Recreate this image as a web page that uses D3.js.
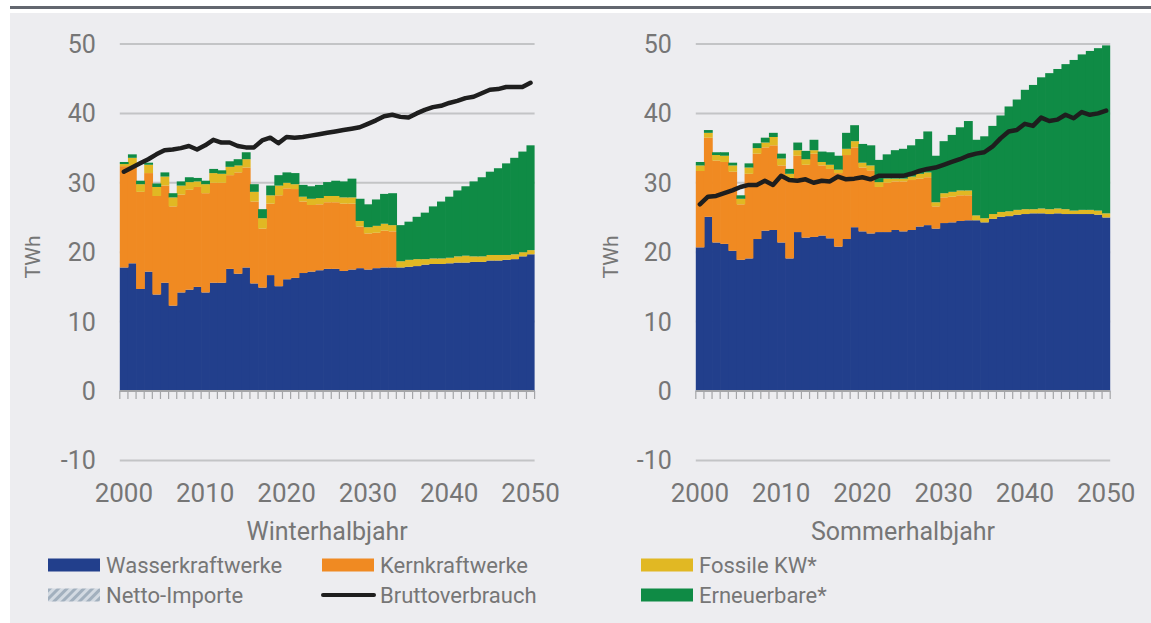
<!DOCTYPE html>
<html>
<head>
<meta charset="utf-8">
<script src="https://cdn.jsdelivr.net/npm/d3@7"></script>
<style>
    body { margin: 0; background: #ffffff; }
    svg text { font-family: Roboto, "Liberation Sans", sans-serif; fill: #767676; }
</style>
</head>
<body>
<div id="chart"></div>
<script>
// years 2000 - 2050
const years = d3.range(2000, 2051);
const yearLabels = [2000, 2010, 2020, 2030, 2040, 2050];
const yTicks = [-10, 0, 10, 20, 30, 40, 50];

// Winterhalbjahr (TWh)
const winterWasser = [17.8,18.4,14.7,17.2,13.9,15.6,12.3,14.2,14.6,15.0,14.2,15.6,15.6,17.6,16.9,17.8,15.5,14.9,16.7,15.1,16.1,16.3,17.0,17.2,17.4,17.6,17.6,17.3,17.5,17.7,17.5,17.7,17.8,17.8,17.8,17.9,18.0,18.2,18.3,18.3,18.4,18.5,18.5,18.6,18.6,18.8,18.8,18.9,19.0,19.4,19.7];
const winterKern = [14.6,14.0,14.0,14.2,14.2,14.0,14.3,14.1,14.4,14.4,14.3,14.4,14.4,13.5,14.6,14.4,11.8,8.5,10.3,13.1,13.1,12.8,10.3,9.6,9.5,9.6,9.6,9.7,9.5,6.0,5.2,5.1,5.3,5.2,0,0,0,0,0,0,0,0,0,0,0,0,0,0,0,0,0];
const winterFossil = [0.3,1.2,1.1,1.2,1.3,1.3,1.3,1.3,1.1,0.8,1.3,1.4,1.3,1.2,1.0,1.2,1.4,1.5,1.2,1.4,0.8,0.7,0.7,0.9,0.9,0.9,0.9,0.9,0.9,0.8,0.9,1.0,1.0,0.9,0.9,1.0,1.0,0.8,0.8,0.8,0.8,0.9,1.0,0.8,0.8,0.8,0.8,0.7,0.7,0.6,0.6];
const winterErneuerbar = [0.3,0.5,0.5,0.3,0.5,0.6,0.6,0.6,0.7,0.5,0.5,0.6,0.5,0.8,0.9,1.0,1.1,1.3,1.4,1.5,1.5,1.6,1.7,1.8,1.9,2.0,2.2,2.3,2.7,3.2,3.3,3.8,4.3,4.6,5.2,5.5,6.1,6.7,7.5,8.2,8.8,9.5,10.0,10.8,11.4,12.0,12.5,13.2,13.9,14.5,15.1];
const winterImport = years.map(() => 0);
const winterBrutto = [31.6,32.2,32.8,33.4,34.1,34.7,34.8,35.0,35.3,34.8,35.4,36.2,35.8,35.8,35.3,35.1,35.1,36.1,36.5,35.7,36.6,36.5,36.6,36.8,37.0,37.2,37.4,37.6,37.8,38.0,38.5,39.0,39.6,39.8,39.5,39.4,40.0,40.5,40.9,41.1,41.5,41.8,42.2,42.4,42.9,43.4,43.5,43.8,43.8,43.8,44.4];

// Sommerhalbjahr (TWh)
const summerWasser = [20.7,25.1,21.4,21.2,20.2,18.9,19.1,21.9,23.1,23.2,21.4,19.1,22.9,22.1,22.2,22.4,22.0,20.8,21.9,23.6,23.0,22.7,22.9,22.9,23.2,23.0,23.2,23.7,23.9,23.4,24.2,24.3,24.5,24.6,24.6,24.3,24.8,25.1,25.2,25.4,25.5,25.6,25.6,25.5,25.6,25.5,25.5,25.5,25.5,25.4,25.0];
const summerKern = [11.0,11.4,11.8,11.8,11.4,8.0,12.2,12.3,12.0,12.2,11.1,11.5,11.0,10.5,12.0,10.1,10.0,10.6,12.1,11.5,9.2,9.1,6.5,7.1,7.0,7.2,7.2,6.9,6.9,3.2,3.7,3.7,3.7,3.6,0,0,0,0,0,0,0,0,0,0,0,0,0,0,0,0,0];
const summerFossil = [0.8,0.7,0.8,0.9,0.9,0.8,0.9,0.8,0.7,1.2,1.0,0.7,0.8,0.8,0.5,0.5,0.6,0.5,0.9,0.9,0.7,0.7,0.7,0.6,0.4,0.4,0.5,0.7,0.7,0.6,0.6,0.7,0.7,0.7,0.7,0.6,0.7,0.7,0.7,0.7,0.7,0.6,0.7,0.7,0.7,0.7,0.5,0.6,0.6,0.6,0.6];
const summerErneuerbar = [0.5,0.4,0.4,0.5,0.4,0.5,0.6,0.7,0.7,0.6,0.7,0.7,1.1,1.2,1.5,1.5,1.8,2.0,2.3,2.3,2.7,2.9,3.2,3.5,4.1,4.3,4.5,5.0,5.9,6.7,7.5,8.2,9.1,10.0,10.9,11.8,12.7,13.9,15.1,15.9,17.2,17.9,18.9,19.6,20.1,20.9,21.7,22.4,22.9,23.4,24.2];
const summerImport = years.map(() => 0);
const summerBrutto = [26.9,28.0,28.1,28.5,28.9,29.4,29.7,29.7,30.3,29.7,31.0,30.4,30.3,30.5,30.0,30.3,30.2,30.9,30.5,30.6,30.8,30.5,31.0,31.0,31.0,31.0,31.3,31.7,32.0,32.2,32.6,33.0,33.4,33.9,34.2,34.4,35.2,36.4,37.4,37.6,38.5,38.2,39.4,38.9,39.1,39.8,39.3,40.2,39.8,40.0,40.4];

const keys = ["wasser", "kern", "fossil", "erneuerbar"];
const colors = {
    wasser: "#223f8c",
    kern: "#f08a22",
    fossil: "#e1b823",
    erneuerbar: "#0f8b45"
};

const width = 1151, height = 623;

let svg = d3.select("#chart")
    .append("svg")
    .attr("width", width)
    .attr("height", height);

// hatch for Netto-Importe
let pattern = svg.append("defs").append("pattern")
    .attr("id", "hatch")
    .attr("patternUnits", "userSpaceOnUse")
    .attr("width", 6)
    .attr("height", 6)
    .attr("patternTransform", "rotate(45)");
pattern.append("rect").attr("width", 6).attr("height", 6).attr("fill", "#d3dae2");
pattern.append("rect").attr("width", 3).attr("height", 6).attr("fill", "#a2b0be");

// background + top rule
svg.append("rect")
    .attr("x", 10).attr("y", 13)
    .attr("width", width - 10).attr("height", height - 13)
    .attr("fill", "#ededf0");
svg.append("rect")
    .attr("x", 10).attr("y", 6)
    .attr("width", width - 10).attr("height", 3)
    .attr("fill", "#63676f");

const y = d3.scaleLinear()
    .domain([-10, 50])
    .range([460.4, 44]);

function drawPanel(opts) {
    let data = years.map((yr, i) => ({
        year: yr,
        wasser: opts.wasser[i],
        kern: opts.kern[i],
        fossil: opts.fossil[i],
        erneuerbar: opts.erneuerbar[i],
        imp: opts.imp[i],
        brutto: opts.brutto[i]
    }));

    let x = d3.scaleBand()
        .domain(years)
        .range([opts.left, opts.right])
        .padding(0);

    // bars overlap a little so no seams show between neighbours
    let barW = d => Math.min(x.bandwidth() + 0.7, opts.right - x(d));

    let g = svg.append("g");

    // gridlines
    g.selectAll(".grid")
        .data(yTicks.filter(t => t !== 0))
        .enter()
        .append("line")
        .attr("x1", opts.left)
        .attr("x2", opts.right)
        .attr("y1", d => y(d))
        .attr("y2", d => y(d))
        .attr("stroke", "#c3c4c6")
        .attr("stroke-width", 2);

    // y labels
    g.selectAll(".ylab")
        .data(yTicks)
        .enter()
        .append("text")
        .attr("x", opts.left - 24)
        .attr("y", d => y(d))
        .attr("dy", "0.36em")
        .attr("text-anchor", "end")
        .style("font-size", "25px")
        .text(d => d);

    g.append("text")
        .attr("transform", "translate(" + opts.unitX + ",257) rotate(-90)")
        .attr("text-anchor", "middle")
        .attr("dy", "0.35em")
        .style("font-size", "21px")
        .text("TWh");

    // stacked bars
    let series = d3.stack().keys(keys)(data);
    g.selectAll(".layer")
        .data(series)
        .enter()
        .append("g")
        .attr("fill", d => colors[d.key])
        .selectAll("rect")
        .data(d => d)
        .enter()
        .append("rect")
        .attr("x", d => x(d.data.year))
        .attr("width", d => barW(d.data.year))
        .attr("y", d => y(d[1]))
        .attr("height", d => Math.max(0, y(d[0]) - y(d[1])));

    // Netto-Importe (below zero)
    g.selectAll(".imp")
        .data(data.filter(d => d.imp > 0))
        .enter()
        .append("rect")
        .attr("x", d => x(d.year))
        .attr("width", d => barW(d.year))
        .attr("y", y(0))
        .attr("height", d => y(-d.imp) - y(0))
        .attr("fill", "url(#hatch)");

    // x axis: baseline with a tick at each band edge
    g.append("line")
        .attr("x1", opts.left).attr("x2", opts.right)
        .attr("y1", y(0)).attr("y2", y(0))
        .attr("stroke", "#a4a5a8")
        .attr("stroke-width", 2);
    g.selectAll(".xtick")
        .data(years.concat([2051]))
        .enter()
        .append("line")
        .attr("x1", d => d === 2051 ? opts.right : x(d))
        .attr("x2", d => d === 2051 ? opts.right : x(d))
        .attr("y1", y(0))
        .attr("y2", y(0) + 8)
        .attr("stroke", "#a4a5a8")
        .attr("stroke-width", 1.2);

    g.selectAll(".xlab")
        .data(yearLabels)
        .enter()
        .append("text")
        .attr("x", d => x(d) + x.bandwidth() / 2)
        .attr("y", 493)
        .attr("dy", "0.36em")
        .attr("text-anchor", "middle")
        .style("font-size", "26px")
        .text(d => d);

    g.append("text")
        .attr("x", (opts.left + opts.right) / 2)
        .attr("y", 531)
        .attr("dy", "0.36em")
        .attr("text-anchor", "middle")
        .style("font-size", "25px")
        .text(opts.title);

    // Bruttoverbrauch
    let line = d3.line()
        .x(d => x(d.year) + x.bandwidth() / 2)
        .y(d => y(d.brutto));
    g.append("path")
        .datum(data)
        .attr("d", line)
        .attr("fill", "none")
        .attr("stroke", "#1e1e1e")
        .attr("stroke-width", 4.5)
        .attr("stroke-linejoin", "round")
        .attr("stroke-linecap", "round");
}

drawPanel({
    wasser: winterWasser, kern: winterKern, fossil: winterFossil,
    erneuerbar: winterErneuerbar, imp: winterImport, brutto: winterBrutto,
    left: 119.8, right: 534.6, unitX: 33, title: "Winterhalbjahr"
});

drawPanel({
    wasser: summerWasser, kern: summerKern, fossil: summerFossil,
    erneuerbar: summerErneuerbar, imp: summerImport, brutto: summerBrutto,
    left: 695.8, right: 1110.2, unitX: 611, title: "Sommerhalbjahr"
});

// legend
const legendItems = [
    {label: "Wasserkraftwerke", fill: colors.wasser, x: 48, row: 0},
    {label: "Kernkraftwerke", fill: colors.kern, x: 322, row: 0},
    {label: "Fossile KW*", fill: colors.fossil, x: 641, row: 0},
    {label: "Netto-Importe", fill: "url(#hatch)", x: 48, row: 1},
    {label: "Bruttoverbrauch", line: true, x: 322, row: 1},
    {label: "Erneuerbare*", fill: colors.erneuerbar, x: 641, row: 1}
];

let legend = svg.append("g");
legendItems.forEach(item => {
    let cy = item.row === 0 ? 565 : 595;
    if (item.line) {
        legend.append("line")
            .attr("x1", item.x + 1).attr("x2", item.x + 52)
            .attr("y1", cy).attr("y2", cy)
            .attr("stroke", "#1e1e1e")
            .attr("stroke-width", 4)
            .attr("stroke-linecap", "round");
    } else {
        legend.append("rect")
            .attr("x", item.x).attr("y", cy - 6.5)
            .attr("width", 52).attr("height", 13)
            .attr("fill", item.fill);
    }
    legend.append("text")
        .attr("x", item.x + 58)
        .attr("y", cy)
        .attr("dy", "0.36em")
        .style("font-size", "22px")
        .text(item.label);
});
</script>
</body>
</html>
